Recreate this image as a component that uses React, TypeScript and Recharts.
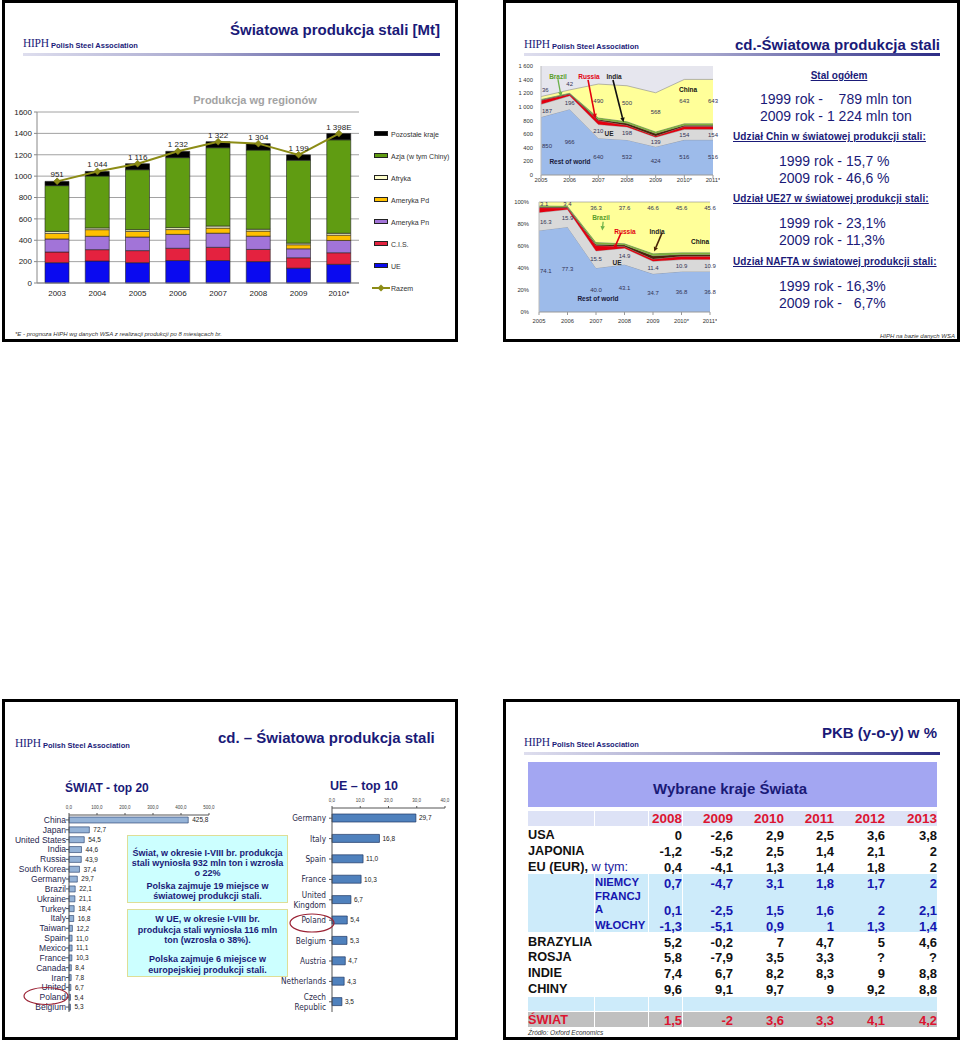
import React from 'react';
import {
  ComposedChart, BarChart, Bar, Line, Area, XAxis, YAxis, CartesianGrid, LabelList, ReferenceLine,
} from 'recharts';

const FONT = '"Liberation Sans", Arial, Helvetica, sans-serif';
const SERIF = '"Liberation Serif", "Times New Roman", serif';
const NARROW = '"Liberation Sans Narrow", "DejaVu Sans Condensed", "Liberation Sans", sans-serif';
const NAVY = '#1a1a78';

// ---------- Slide 1: Produkcja wg regionów [Mt]
const years1 = ['2003', '2004', '2005', '2006', '2007', '2008', '2009', '2010*'];
const ueMt1 = [190, 206, 190, 210, 210, 200, 139, 175];
const cisMt1 = [100, 106, 113, 115, 124, 114, 97, 108];
const amPnMt1 = [122, 125, 127, 130, 132, 124, 84, 115];
const amPdMt1 = [53, 62, 53, 45, 48, 48, 38, 50];
const afrykaMt1 = [18, 16, 16, 18, 19, 17, 15, 17];
const azjaMt1 = [428, 486, 561, 655, 733, 741, 776, 875];
const pozostaleMt1 = [40, 43, 56, 59, 56, 60, 50, 58];
const razemMt1 = [951, 1044, 1116, 1232, 1322, 1304, 1199, 1398];
const razemLabels1 = ['951', '1 044', '1 116', '1 232', '1 322', '1 304', '1 199', '1 398E'];
const regionNames = ['UE', 'C.I.S.', 'Ameryka Pn', 'Ameryka Pd', 'Afryka', 'Azja (w tym Chiny)', 'Pozostałe kraje'];
const regionColors = ['#0a0af0', '#e4223f', '#a274d8', '#ffc000', '#ffffcc', '#609c12', '#000000'];
const yTicks1 = [0, 200, 400, 600, 800, 1000, 1200, 1400, 1600];

// ---------- Slide 2: production by country groups
const years2 = ['2005', '2006', '2007', '2008', '2009', '2010*', '2011*'];
const rowMt = [850, 966, 540, 515, 415, 516, 516];
const ueMt = [187, 196, 200, 190, 139, 154, 154];
const russiaMt = [60, 25, 60, 25, 20, 45, 45];
const indiaMt = [8, 8, 15, 30, 35, 15, 15];
const brazilMt = [10, 12, 30, 30, 30, 30, 30];
const chinaMt = [36, 42, 490, 520, 568, 643, 643];
const rowMtLabels = ['850', '966', '640', '532', '424', '516', '516'];
const ueMtLabels = ['187', '196', '210', '198', '139', '154', '154'];
const chinaMtLabels = ['36', '42', '490', '500', '568', '643', '643'];
const yTicks2 = [0, 200, 400, 600, 800, 1000, 1200, 1400, 1600];

const rowPct = [74.1, 77.3, 40.0, 43.1, 34.7, 36.8, 36.8];
const uePct = [16.3, 15.9, 15.5, 14.9, 11.4, 10.9, 10.9];
const russiaPct = [4.5, 1.5, 5.0, 1.5, 2.0, 3.0, 3.0];
const indiaPct = [0.8, 0.8, 1.0, 1.5, 3.0, 1.5, 1.5];
const brazilPct = [1.2, 1.1, 2.2, 1.4, 2.3, 2.2, 2.2];
const chinaPct = [3.1, 3.4, 36.3, 37.6, 46.6, 45.6, 45.6];
const yTicksPct = [0, 20, 40, 60, 80, 100];

const groupKeys = ['row', 'ue', 'ru', 'ind', 'br', 'cn'];
const groupColors = ['#9dbbea', '#d9d9d9', '#e2000f', '#4a2408', '#7db13a', '#ffff99'];

// ---------- Slide 3: top producers
const worldCountries = ['China', 'Japan', 'United States', 'India', 'Russia', 'South Korea', 'Germany', 'Brazil', 'Ukraine', 'Turkey', 'Italy', 'Taiwan', 'Spain', 'Mexico', 'France', 'Canada', 'Iran', 'United', 'Poland', 'Belgium'];
const worldValues = [425.8, 72.7, 54.5, 44.6, 43.9, 37.4, 29.7, 22.1, 21.1, 18.4, 16.8, 12.2, 11.0, 11.1, 10.3, 8.4, 7.8, 6.7, 5.4, 5.3];
const worldTicks = [0, 100, 200, 300, 400, 500];
const euCountries = ['Germany', 'Italy', 'Spain', 'France', 'United Kingdom', 'Poland', 'Belgium', 'Austria', 'Netherlands', 'Czech Republic'];
const euValues = [29.7, 16.8, 11.0, 10.3, 6.7, 5.4, 5.3, 4.7, 4.3, 3.5];
const euTicks = [0, 10, 20, 30, 40];

// ---------- Slide 4: PKB table
const gdpYears = ['2008', '2009', '2010', '2011', '2012', '2013'];
const gdpUSA = ['0', '-2,6', '2,9', '2,5', '3,6', '3,8'];
const gdpJaponia = ['-1,2', '-5,2', '2,5', '1,4', '2,1', '2'];
const gdpEU = ['0,4', '-4,1', '1,3', '1,4', '1,8', '2'];
const gdpNiemcy = ['0,7', '-4,7', '3,1', '1,8', '1,7', '2'];
const gdpFrancja = ['0,1', '-2,5', '1,5', '1,6', '2', '2,1'];
const gdpWlochy = ['-1,3', '-5,1', '0,9', '1', '1,3', '1,4'];
const gdpBrazylia = ['5,2', '-0,2', '7', '4,7', '5', '4,6'];
const gdpRosja = ['5,8', '-7,9', '3,5', '3,3', '?', '?'];
const gdpIndie = ['7,4', '6,7', '8,2', '8,3', '9', '8,8'];
const gdpChiny = ['9,6', '9,1', '9,7', '9', '9,2', '8,8'];
const gdpSwiat = ['1,5', '-2', '3,6', '3,3', '4,1', '4,2'];

// ---------- helpers
const fmtComma = (v: any) => Number(v).toFixed(1).replace('.', ',');
const fmtThousands = (v: number) => (v >= 1000 ? `${Math.floor(v / 1000)} ${String(v % 1000).padStart(3, '0')}` : String(v));

type TP = {
  x: number; y: number; size: number; color?: string; bold?: boolean; italic?: boolean;
  anchor?: 'start' | 'middle' | 'end'; children: any; underline?: boolean; ls?: number; font?: string;
};
const T = ({ x, y, size, color = '#000', bold, italic, anchor = 'start', children, underline, ls, font }: TP) => {
  const tx = anchor === 'start' ? '0' : anchor === 'middle' ? '-50%' : '-100%';
  return (
    <div style={{
      position: 'absolute', left: x, top: y, transform: `translate(${tx},-50%)`, fontSize: size, lineHeight: 1,
      color, fontWeight: bold ? 700 : 400, fontStyle: italic ? 'italic' : 'normal', whiteSpace: 'pre',
      textDecoration: underline ? 'underline' : 'none', letterSpacing: ls, fontFamily: font || FONT,
    }}>{children}</div>
  );
};

const Box = ({ x, y, w, h }: { x: number; y: number; w: number; h: number }) => (
  <div style={{ position: 'absolute', left: x, top: y, width: w, height: h, border: '3px solid #000', boxSizing: 'border-box' }} />
);

const Logo = ({ x, y }: { x: number; y: number }) => (
  <>
    <T x={x} y={y} size={11.5} color={NAVY} font={SERIF} ls={-0.3}>HIPH</T>
    <T x={x + 28} y={y + 1.5} size={7.5} bold color={NAVY}>Polish Steel Association</T>
  </>
);

const Rule = ({ x1, x2, y }: { x1: number; x2: number; y: number }) => (
  <div style={{
    position: 'absolute', left: x1, top: y - 1, width: x2 - x1, height: 2.5,
    background: 'linear-gradient(to right, #dedeee, #a4a4cc 45%, #2c2c86)',
  }} />
);

const Diamond = (p: any) => {
  const { cx, cy } = p;
  if (cx == null || cy == null) return <g />;
  const r = 3.5;
  return <path d={`M${cx},${cy - r}L${cx + r},${cy}L${cx},${cy + r}L${cx - r},${cy}Z`} fill="#8c8c16" stroke="#6d6d0e" strokeWidth={0.5} />;
};

const arrowShape = (color: string, w: number) => (p: any) => {
  const { x1, y1, x2, y2 } = p;
  if ([x1, y1, x2, y2].some((v) => v == null || Number.isNaN(v))) return <g />;
  const ang = Math.atan2(y2 - y1, x2 - x1);
  const L = 4.5, W = 2.2;
  const bx = x2 - L * Math.cos(ang), by = y2 - L * Math.sin(ang);
  const px = -Math.sin(ang) * W, py = Math.cos(ang) * W;
  return (
    <g>
      <line x1={x1} y1={y1} x2={bx} y2={by} stroke={color} strokeWidth={w} />
      <polygon points={`${x2},${y2} ${bx + px},${by + py} ${bx - px},${by - py}`} fill={color} />
    </g>
  );
};

const areaLabel = (size: number, color: string) => (p: any) => {
  const { x, y, value, index } = p;
  if (x == null || y == null) return <g />;
  const first = index === 0;
  return (
    <text x={first ? x + 1 : x} y={y} textAnchor={first ? 'start' : 'middle'} dominantBaseline="central"
      fontSize={size} fill={color} fontFamily={FONT}>{value}</text>
  );
};

const plainYTick = (fmt: (v: number) => string) => (p: any) => (
  <text x={p.x} y={p.y} textAnchor="end" dominantBaseline="central" fontSize={5.8} fill="#333" fontFamily={FONT}>
    {fmt(p.payload.value)}
  </text>
);

// ---------- Slide A
const regionSeries = [ueMt1, cisMt1, amPnMt1, amPdMt1, afrykaMt1, azjaMt1, pozostaleMt1];
const data1 = years1.map((year, i) => {
  const row: any = { year, razem: razemMt1[i], razemLabel: razemLabels1[i] };
  regionSeries.forEach((s, k) => { row['r' + k] = s[i]; });
  return row;
});

const SlideA = () => (
  <>
    <Box x={2} y={0} w={456} h={342} />
    <Logo x={23} y={44} />
    <T x={440} y={29} size={15} bold color={NAVY} anchor="end">Światowa produkcja stali [Mt]</T>
    <Rule x1={23} x2={440} y={54} />
    <T x={255} y={100} size={11} bold color="#a3a3a3" anchor="middle">Produkcja wg regionów</T>
    <div style={{ position: 'absolute', left: 0, top: 100 }}>
      <ComposedChart width={370} height={205} data={data1} margin={{ top: 12, right: 11, bottom: 0, left: 0 }}>
        <CartesianGrid vertical={false} stroke="#8a8a8a" strokeWidth={0.8} />
        <XAxis dataKey="year" interval={0} height={22} tickLine={false} tickSize={3} tickMargin={4}
          axisLine={{ stroke: '#888' }} tick={{ fontSize: 8, fill: '#222' }} />
        <YAxis domain={[0, 1600]} ticks={yTicks1} width={37} tickSize={3} tickMargin={2} interval={0}
          axisLine={{ stroke: '#888' }} tickLine={{ stroke: '#888' }} tick={{ fontSize: 8, fill: '#222' }} />
        <YAxis yAxisId="r" orientation="right" width={0} domain={[0, 1]} tick={false} tickLine={false} axisLine={{ stroke: '#888' }} />
        {regionNames.map((n, k) => (
          <Bar key={n} dataKey={'r' + k} name={n} stackId="a" fill={regionColors[k]} stroke="#222" strokeWidth={0.6}
            barSize={24} isAnimationActive={false} />
        ))}
        <Line dataKey="razem" name="Razem" stroke="#8c8c16" strokeWidth={2} isAnimationActive={false}
          dot={(p: any) => <Diamond key={`d${p.index}`} {...p} />} activeDot={false}>
          <LabelList dataKey="razemLabel" position="top" offset={4} fontSize={8} fill="#222" />
        </Line>
      </ComposedChart>
    </div>
    {[...regionNames.map((n, k) => ({ n, c: regionColors[k] })).reverse(), { n: 'Razem', c: '' }].map((it, i) => (
      <React.Fragment key={it.n}>
        {it.c ? (
          <div style={{ position: 'absolute', left: 374, top: 134 + 22 * i - 3, width: 14, height: 5, background: it.c, border: '0.8px solid #222', boxSizing: 'border-box' }} />
        ) : (
          <svg style={{ position: 'absolute', left: 372, top: 134 + 22 * i - 5 }} width={18} height={10}>
            <line x1={0} y1={5} x2={18} y2={5} stroke="#8c8c16" strokeWidth={2} />
            <path d="M9,1.5L12.5,5L9,8.5L5.5,5Z" fill="#8c8c16" />
          </svg>
        )}
        <T x={391} y={134 + 22 * i} size={7} color="#333">{it.n}</T>
      </React.Fragment>
    ))}
    <T x={15} y={334} size={6} italic color="#333">*E - prognoza HIPH wg danych WSA z realizacji produkcji po 8 miesiącach br.</T>
  </>
);

// ---------- Slide B
const mtSeries = [rowMt, ueMt, russiaMt, indiaMt, brazilMt, chinaMt];
const pctSeries = [rowPct, uePct, russiaPct, indiaPct, brazilPct, chinaPct];
const buildAreaData = (series: number[][], lbl: string[][], chinaAt: (total: number, c: number) => number) =>
  years2.map((y, i) => {
    const row: any = { i };
    groupKeys.forEach((k, j) => { row[k] = series[j][i]; });
    const total = series.reduce((s, a) => s + a[i], 0);
    row.rowMid = series[0][i] / 2;
    row.ueMid = series[0][i] + series[1][i] / 2;
    row.cnMid = chinaAt(total, series[5][i]);
    row.rowLbl = lbl[0][i];
    row.ueLbl = lbl[1][i];
    row.cnLbl = lbl[2][i];
    return row;
  });
const dataMt = buildAreaData(mtSeries, [rowMtLabels, ueMtLabels, chinaMtLabels],
  (total, c) => (c < 100 ? total + 90 : total - c / 2));
const dataPct = buildAreaData(pctSeries,
  [rowPct.map((v) => v.toFixed(1)), uePct.map((v) => v.toFixed(1)), chinaPct.map((v) => v.toFixed(1))],
  (total, c) => total - Math.min(c / 2, 5.5));

const areaSeries = () => groupKeys.map((k, j) => (
  <Area key={k} type="linear" dataKey={k} stackId="s" stroke="#8a8a8a" strokeWidth={0.6} fill={groupColors[j]}
    fillOpacity={1} isAnimationActive={false} activeDot={false} />
));
const labelLines = () => ([
  ['rowMid', 'rowLbl'], ['ueMid', 'ueLbl'], ['cnMid', 'cnLbl'],
] as const).map(([k, l]) => (
  <Line key={k} dataKey={k} stroke="none" dot={false} activeDot={false} isAnimationActive={false} legendType="none">
    <LabelList dataKey={l} content={areaLabel(6, '#333355')} />
  </Line>
));

const SlideB = () => (
  <>
    <Box x={503} y={0} w={457} h={342} />
    <Logo x={524} y={45} />
    <T x={940} y={44} size={15} bold color={NAVY} anchor="end">cd.-Światowa produkcja stali</T>
    <Rule x1={524} x2={940} y={54} />
    <div style={{ position: 'absolute', left: 505, top: 60 }}>
      <ComposedChart width={215} height={127} data={dataMt} margin={{ top: 6, right: 7, bottom: 0, left: 0 }}>
        <CartesianGrid horizontal={false} vertical={false} fill="#e6e6ee" />
        <XAxis type="number" dataKey="i" domain={[0, 6]} ticks={[0, 1, 2, 3, 4, 5, 6]} interval={0}
          tickFormatter={(v: number) => years2[v]} height={12} tickSize={3} tickMargin={0}
          axisLine={{ stroke: '#999' }} tickLine={{ stroke: '#999' }} tick={{ fontSize: 5.8, fill: '#333' }} />
        <YAxis domain={[0, 1600]} ticks={yTicks2} width={36} interval={0}
          axisLine={{ stroke: '#bbb' }} tickLine={false} tick={plainYTick(fmtThousands)} />
        {areaSeries()}
        {labelLines()}
        <ReferenceLine segment={[{ x: 0.59, y: 1409 }, { x: 0.7, y: 1150 }]} stroke="#6ab04a" shape={arrowShape('#6ab04a', 1.3)} />
        <ReferenceLine segment={[{ x: 1.64, y: 1395 }, { x: 1.9, y: 830 }]} stroke="#e2000f" shape={arrowShape('#e2000f', 1.6)} />
        <ReferenceLine segment={[{ x: 2.51, y: 1395 }, { x: 2.88, y: 775 }]} stroke="#111" shape={arrowShape('#111', 1.6)} />
      </ComposedChart>
    </div>
    <T x={558} y={77} size={6.5} bold color="#5a9e2a" anchor="middle">Brazil</T>
    <T x={589} y={77} size={6.5} bold color="#e2000f" anchor="middle">Russia</T>
    <T x={614} y={77} size={6.5} bold color="#222" anchor="middle">India</T>
    <T x={688} y={90} size={6.5} bold color="#111" anchor="middle">China</T>
    <T x={609} y={134} size={6.5} bold color="#222" anchor="middle">UE</T>
    <T x={570} y={162} size={6.5} bold color="#1a1a3a" anchor="middle">Rest of world</T>

    <div style={{ position: 'absolute', left: 505, top: 196 }}>
      <ComposedChart width={212} height={132} data={dataPct} margin={{ top: 6, right: 7, bottom: 0, left: 0 }}>
        <XAxis type="number" dataKey="i" domain={[0, 6]} ticks={[0, 1, 2, 3, 4, 5, 6]} interval={0}
          tickFormatter={(v: number) => years2[v]} height={16} tickSize={3} tickMargin={4}
          axisLine={{ stroke: '#999' }} tickLine={{ stroke: '#999' }} tick={{ fontSize: 5.8, fill: '#333' }} />
        <YAxis domain={[0, 100]} ticks={yTicksPct} width={34} interval={0}
          tickMargin={4} axisLine={{ stroke: '#bbb' }} tickLine={false} tick={plainYTick((v) => `${v}%`)} />
        {areaSeries()}
        {labelLines()}
        <ReferenceLine segment={[{ x: 2.25, y: 82 }, { x: 2.22, y: 74 }]} stroke="#6ab04a" shape={arrowShape('#6ab04a', 1.2)} />
        <ReferenceLine segment={[{ x: 2.88, y: 72 }, { x: 2.63, y: 57 }]} stroke="#e2000f" shape={arrowShape('#e2000f', 1.6)} />
        <ReferenceLine segment={[{ x: 4.32, y: 72 }, { x: 4.04, y: 55 }]} stroke="#111" shape={arrowShape('#4a2408', 1.6)} />
      </ComposedChart>
    </div>
    <T x={601} y={218} size={6.5} bold color="#5a9e2a" anchor="middle">Brazil</T>
    <T x={625} y={232} size={6.5} bold color="#e2000f" anchor="middle">Russia</T>
    <T x={657} y={232} size={6.5} bold color="#222" anchor="middle">India</T>
    <T x={700} y={242} size={6.5} bold color="#111" anchor="middle">China</T>
    <T x={617} y={263} size={6.5} bold color="#222" anchor="middle">UE</T>
    <T x={598} y={299} size={6.5} bold color="#1a1a3a" anchor="middle">Rest of world</T>

    <T x={839} y={76} size={10} bold underline color={NAVY} anchor="middle">Stal ogółem</T>
    <T x={760} y={99} size={14} color={NAVY}>{'1999 rok -    789 mln ton'}</T>
    <T x={760} y={116} size={14} color={NAVY}>2009 rok - 1 224 mln ton</T>
    <T x={733} y={137} size={10} bold underline ls={0.1} color={NAVY}>Udział Chin w światowej produkcji stali:</T>
    <T x={779} y={161} size={14} color={NAVY}>1999 rok - 15,7 %</T>
    <T x={779} y={178} size={14} color={NAVY}>2009 rok - 46,6 %</T>
    <T x={733} y={199} size={10} bold underline ls={0.1} color={NAVY}>Udział UE27 w światowej produkcji stali:</T>
    <T x={779} y={223} size={14} color={NAVY}>1999 rok - 23,1%</T>
    <T x={779} y={240} size={14} color={NAVY}>2009 rok - 11,3%</T>
    <T x={733} y={262} size={10} bold underline ls={0.1} color={NAVY}>Udział NAFTA w światowej produkcji stali:</T>
    <T x={779} y={286} size={14} color={NAVY}>1999 rok - 16,3%</T>
    <T x={779} y={303} size={14} color={NAVY}>{'2009 rok -   6,7%'}</T>
    <T x={955} y={336} size={6} italic color="#333" anchor="end">HIPH na bazie danych WSA</T>
  </>
);

// ---------- Slide C
const worldData = worldCountries.map((name, i) => ({ name, v: worldValues[i] }));
const euData = euCountries.map((name, i) => ({ name, v: euValues[i] }));

const WorldTick = (p: any) => (
  <text x={p.x} y={p.y} textAnchor="end" dominantBaseline="central" fontSize={8.5} fill="#1f1f50" fontFamily={FONT}>
    {p.payload.value}
  </text>
);
const EuTick = (p: any) => {
  const words = String(p.payload.value).split(' ');
  return (
    <text x={p.x} y={p.y} textAnchor="end" dominantBaseline="central" fontSize={8.2} fill="#2a2a4a" fontFamily={NARROW}>
      {words.length === 1 ? words[0] : words.map((w, k) => (
        <tspan key={k} x={p.x} dy={k === 0 ? -4.5 : 9.5}>{w}</tspan>
      ))}
    </text>
  );
};

const boxText: React.CSSProperties = {
  position: 'absolute', left: 127, width: 161, height: 68, background: '#ccffff', border: '1px solid #dede96',
  boxSizing: 'border-box', textAlign: 'center', color: NAVY, fontWeight: 700, fontSize: 9, fontFamily: FONT,
};

const SlideC = () => (
  <>
    <Box x={2} y={699} w={456} h={341} />
    <Logo x={15} y={744} />
    <T x={218} y={737} size={15} bold color={NAVY}>cd. – Światowa produkcja stali</T>
    <T x={65} y={788} size={12} bold color={NAVY}>ŚWIAT - top 20</T>
    <T x={330} y={786} size={12.5} bold color={NAVY}>UE – top 10</T>
    <div style={{ position: 'absolute', left: 0, top: 795 }}>
      <BarChart layout="vertical" width={262} height={217} data={worldData} margin={{ top: 0, right: 53, bottom: 0, left: 0 }}>
        <XAxis type="number" orientation="top" domain={[0, 500]} ticks={worldTicks} interval={0} height={20}
          tickFormatter={fmtComma} tickSize={2} tickMargin={4} axisLine={{ stroke: '#555' }} tickLine={{ stroke: '#555' }}
          tick={{ fontSize: 4.5, fill: '#444' }} />
        <YAxis type="category" dataKey="name" width={69} interval={0} tickSize={3} tickMargin={0}
          axisLine={{ stroke: '#555' }} tickLine={{ stroke: '#555' }} tick={<WorldTick />} />
        <Bar dataKey="v" fill="#95b3d7" stroke="#1f3864" strokeWidth={0.6} barSize={6} isAnimationActive={false}>
          <LabelList dataKey="v" position="right" offset={4} formatter={fmtComma} fontSize={6.5} fill="#222" />
        </Bar>
      </BarChart>
    </div>
    <div style={{ position: 'absolute', left: 240, top: 790 }}>
      <BarChart layout="vertical" width={217} height={222} data={euData} margin={{ top: 0, right: 12, bottom: 0, left: 0 }}>
        <XAxis type="number" orientation="top" domain={[0, 40]} ticks={euTicks} interval={0} height={18}
          tickFormatter={fmtComma} tickSize={2} tickMargin={4} axisLine={{ stroke: '#555' }} tickLine={{ stroke: '#555' }}
          tick={{ fontSize: 4.5, fill: '#444' }} />
        <YAxis type="category" dataKey="name" width={92} interval={0} tickSize={3} tickMargin={3}
          axisLine={{ stroke: '#555' }} tickLine={{ stroke: '#555' }} tick={<EuTick />} />
        <Bar dataKey="v" fill="#4f81bd" stroke="#1f3864" strokeWidth={0.7} barSize={8} isAnimationActive={false}>
          <LabelList dataKey="v" position="right" offset={3} formatter={fmtComma} fontSize={6.5} fill="#222" />
        </Bar>
      </BarChart>
    </div>
    <div style={{ ...boxText, top: 835, paddingTop: 11.5, lineHeight: '10.3px' }}>
      Świat, w okresie I-VIII br. produkcja<br />stali wyniosła 932 mln ton i wzrosła<br />o 22%
      <div style={{ height: 2.4 }} />
      Polska zajmuje 19 miejsce w<br />światowej produkcji stali.
    </div>
    <div style={{ ...boxText, top: 909, paddingTop: 3.6, lineHeight: '10.9px' }}>
      W UE, w okresie I-VIII br.<br />produkcja stali wyniosła 116 mln<br />ton (wzrosła o 38%).
      <div style={{ height: 7.4 }} />
      Polska zajmuje 6 miejsce w<br />europejskiej produkcji stali.
    </div>
    <svg style={{ position: 'absolute', left: 0, top: 0 }} width={460} height={1044}>
      <ellipse cx={46} cy={996} rx={22} ry={8.5} fill="none" stroke="#9b2335" strokeWidth={1.2} />
      <ellipse cx={312} cy={923} rx={22} ry={9} fill="none" stroke="#9b2335" strokeWidth={1.2} />
    </svg>
  </>
);

// ---------- Slide D
const colEdges = [648, 682, 733, 784, 834, 885, 937];
const RED = '#dc1430';
const BLUE = '#1616b0';

const tableRows: { label?: string; extra?: string; sub?: string; sub2?: string; vals: string[]; y: number; subY?: number; color: string }[] = [
  { label: 'USA', vals: gdpUSA, y: 835, color: '#111' },
  { label: 'JAPONIA', vals: gdpJaponia, y: 851, color: '#111' },
  { label: 'EU (EUR),', extra: ' w tym:', vals: gdpEU, y: 867, color: '#111' },
  { sub: 'NIEMCY', vals: gdpNiemcy, y: 883, color: BLUE },
  { sub: 'FRANCJ', sub2: 'A', vals: gdpFrancja, y: 910, subY: 897, color: BLUE },
  { sub: 'WŁOCHY', vals: gdpWlochy, y: 926, color: BLUE },
  { label: 'BRAZYLIA', vals: gdpBrazylia, y: 942, color: '#111' },
  { label: 'ROSJA', vals: gdpRosja, y: 957, color: '#111' },
  { label: 'INDIE', vals: gdpIndie, y: 973, color: '#111' },
  { label: 'CHINY', vals: gdpChiny, y: 989, color: '#111' },
  { label: 'ŚWIAT', vals: gdpSwiat, y: 1020, color: RED },
];

const Band = ({ y1, y2, fill }: { y1: number; y2: number; fill: string }) => (
  <>
    <div style={{ position: 'absolute', left: 528, top: y1, width: 409, height: y2 - y1, background: fill }} />
    {[594, 648, 682].map((x) => (
      <div key={x} style={{ position: 'absolute', left: x - 0.5, top: y1, width: 1.2, height: y2 - y1, background: '#fff' }} />
    ))}
  </>
);

const SlideD = () => (
  <>
    <Box x={503} y={699} w={457} h={341} />
    <Logo x={524} y={743} />
    <T x={937} y={732} size={15} bold color={NAVY} anchor="end">PKB (y-o-y) w %</T>
    <Rule x1={524} x2={940} y={753} />
    <div style={{ position: 'absolute', left: 528, top: 762, width: 409, height: 45, background: '#a3a6f2' }} />
    <T x={730} y={788} size={15} bold color={NAVY} anchor="middle">Wybrane kraje Świata</T>
    <Band y1={811} y2={826} fill="#dde2f6" />
    <Band y1={874} y2={932} fill="#cdebfa" />
    <Band y1={997} y2={1011} fill="#cdebfa" />
    <Band y1={1012} y2={1027} fill="#c0c0c0" />
    {gdpYears.map((yr, j) => (
      <T key={yr} x={colEdges[j + 1]} y={819} size={13.5} bold color={RED} anchor="end">{yr}</T>
    ))}
    {tableRows.map((r) => (
      <React.Fragment key={r.y}>
        {r.label && (
          <div style={{ position: 'absolute', left: 528, top: r.y, transform: 'translateY(-50%)', fontSize: 12.7, lineHeight: 1, whiteSpace: 'pre', fontWeight: 700, color: r.color }}>
            {r.label}
            {r.extra && <span style={{ fontWeight: 400, color: '#2222a0' }}>{r.extra}</span>}
          </div>
        )}
        {r.sub && <T x={595} y={r.subY ?? r.y} size={11.3} bold color={r.color}>{r.sub}</T>}
        {r.sub2 && <T x={595} y={r.y} size={11.3} bold color={r.color}>{r.sub2}</T>}
        {r.vals.map((v, j) => (
          <T key={j} x={colEdges[j + 1]} y={r.y} size={13} bold color={r.color} anchor="end">{v}</T>
        ))}
      </React.Fragment>
    ))}
    <T x={528} y={1033} size={6.5} italic color="#333">Źródło: Oxford Economics</T>
  </>
);

export default function App() {
  return (
    <div style={{ position: 'absolute', left: 0, top: 0, width: 960, height: 1044, background: '#fff', fontFamily: FONT, overflow: 'hidden' }}>
      <SlideA />
      <SlideB />
      <SlideC />
      <SlideD />
    </div>
  );
}
